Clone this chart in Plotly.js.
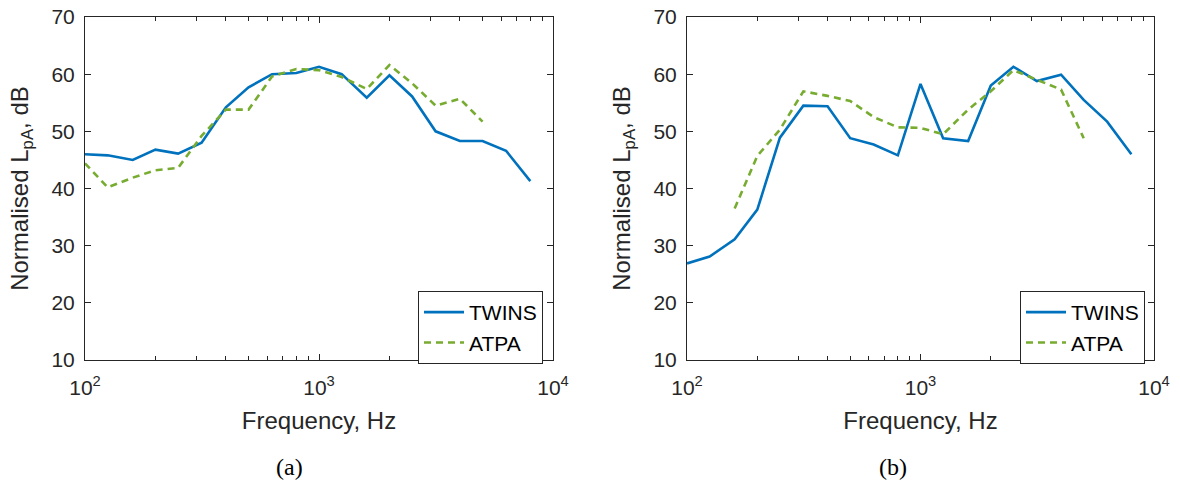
<!DOCTYPE html>
<html>
<head>
<meta charset="utf-8">
<script src="https://cdn.plot.ly/plotly-3.0.1.min.js"></script>
<style>
  html, body { margin: 0; padding: 0; background: #fff; }
  #chart { width: 1180px; height: 488px; }
</style>
</head>
<body>
<div id="chart"></div>
<script>
// One-third octave band centre frequencies, Hz
const freqs = [100, 125, 160, 200, 250, 315, 400, 500, 630, 800, 1000, 1250, 1600, 2000, 2500, 3150, 4000, 5000, 6300, 8000];

// Panel (a)
const twinsA = [46.0, 45.8, 45.0, 46.8, 46.1, 48.0, 54.2, 57.7, 60.0, 60.2, 61.3, 60.0, 55.9, 59.8, 56.1, 50.0, 48.3, 48.3, 46.6, 41.3];
const atpaFreqsA = [100, 125, 160, 200, 250, 315, 400, 500, 630, 800, 1000, 1250, 1600, 2000, 2500, 3150, 4000, 5000];
const atpaA = [44.4, 40.2, 41.9, 43.2, 43.6, 49.2, 53.8, 53.8, 59.6, 60.9, 60.7, 59.5, 57.4, 61.6, 58.4, 54.5, 55.7, 51.7];

// Panel (b)
const twinsB = [26.9, 28.1, 31.1, 36.3, 48.9, 54.5, 54.4, 48.8, 47.7, 45.8, 58.3, 48.8, 48.3, 58.0, 61.3, 58.8, 59.9, 55.5, 51.7, 46.0];
const atpaFreqsB = [160, 200, 250, 315, 400, 500, 630, 800, 1000, 1250, 1600, 2000, 2500, 3150, 4000, 5000];
const atpaB = [36.5, 45.7, 50.3, 57.0, 56.2, 55.3, 52.5, 50.7, 50.6, 49.5, 53.8, 57.0, 60.7, 59.0, 57.3, 48.8];

// Axis ticks and labels
const xMajorTicks = [100, 1000, 10000];
const xMajorText = ['10<sup>2</sup>', '10<sup>3</sup>', '10<sup>4</sup>'];
const xMinorTicks = [200, 300, 400, 500, 600, 700, 800, 900, 2000, 3000, 4000, 5000, 6000, 7000, 8000, 9000];
const seriesNames = ['TWINS', 'ATPA'];
const panelLabels = ['(a)', '(b)'];
const xTitle = 'Frequency, Hz';
const yTitle = 'Normalised L<sub>pA</sub>, dB';

const txt = '#262626';
const fontFam = "'Liberation Sans', Arial, sans-serif";
const serifFam = "'Liberation Serif', 'Times New Roman', serif";
const blue = '#0072BD';
const green = '#77AC30';

const traces = [
  {x: freqs, y: twinsA, name: seriesNames[0], type: 'scatter', mode: 'lines', xaxis: 'x', yaxis: 'y',
   line: {color: blue, width: 2.6}, legend: 'legend'},
  {x: atpaFreqsA, y: atpaA, name: seriesNames[1], type: 'scatter', mode: 'lines', xaxis: 'x', yaxis: 'y',
   line: {color: green, width: 2.6, dash: '7px,5px'}, legend: 'legend'},
  {x: freqs, y: twinsB, name: seriesNames[0], type: 'scatter', mode: 'lines', xaxis: 'x2', yaxis: 'y2',
   line: {color: blue, width: 2.6}, legend: 'legend2'},
  {x: atpaFreqsB, y: atpaB, name: seriesNames[1], type: 'scatter', mode: 'lines', xaxis: 'x2', yaxis: 'y2',
   line: {color: green, width: 2.6, dash: '7px,5px'}, legend: 'legend2'}
];

function xAxis(domain, anchor) {
  return {
    domain: domain, anchor: anchor, type: 'log', range: [2, 4],
    tickvals: xMajorTicks, ticktext: xMajorText,
    ticks: 'inside', ticklen: 6, tickcolor: txt, tickwidth: 1,
    minor: {tickvals: xMinorTicks, ticks: 'inside', ticklen: 4, tickcolor: txt, tickwidth: 1},
    showline: true, linecolor: txt, linewidth: 1, mirror: 'allticks',
    showgrid: false, zeroline: false,
    tickfont: {family: fontFam, size: 21, color: txt},
    ticklabelstandoff: 9,
    title: {text: xTitle, font: {family: fontFam, size: 24, color: txt}, standoff: 13},
    automargin: false, fixedrange: true
  };
}
function yAxis(anchor) {
  return {
    domain: [0, 1], anchor: anchor, range: [10, 70], dtick: 10, tick0: 10,
    ticks: 'inside', ticklen: 6, tickcolor: txt, tickwidth: 1,
    showline: true, linecolor: txt, linewidth: 1, mirror: 'allticks',
    showgrid: false, zeroline: false,
    tickfont: {family: fontFam, size: 21, color: txt},
    ticklabelstandoff: 5,
    title: {text: yTitle, font: {family: fontFam, size: 24, color: txt}, standoff: 16},
    automargin: false, fixedrange: true
  };
}

const legendBase = {
  font: {family: fontFam, size: 21, color: '#000'},
  bgcolor: '#fff', bordercolor: txt, borderwidth: 1,
  xanchor: 'left', yanchor: 'top', tracegroupgap: 0, itemwidth: 40
};

const layout = {
  width: 1180, height: 488,
  margin: {l: 0, r: 0, t: 17, b: 128},
  paper_bgcolor: '#fff', plot_bgcolor: '#fff',
  showlegend: true,
  xaxis: xAxis([85 / 1180, 553 / 1180], 'y'),
  yaxis: yAxis('x'),
  xaxis2: xAxis([687 / 1180, 1154 / 1180], 'y2'),
  yaxis2: yAxis('x2'),
  legend: Object.assign({x: 418 / 1180, y: (360 - 291) / 343}, legendBase),
  legend2: Object.assign({x: 1020 / 1180, y: (360 - 291) / 343}, legendBase),
  annotations: [
    {text: panelLabels[0], x: 289 / 1180, y: -107 / 343, xref: 'paper', yref: 'paper',
     xanchor: 'center', yanchor: 'middle', showarrow: false,
     font: {family: serifFam, size: 24, color: '#000'}},
    {text: panelLabels[1], x: 893 / 1180, y: -107 / 343, xref: 'paper', yref: 'paper',
     xanchor: 'center', yanchor: 'middle', showarrow: false,
     font: {family: serifFam, size: 24, color: '#000'}}
  ]
};

Plotly.newPlot('chart', traces, layout, {staticPlot: true, displayModeBar: false});
</script>
</body>
</html>
